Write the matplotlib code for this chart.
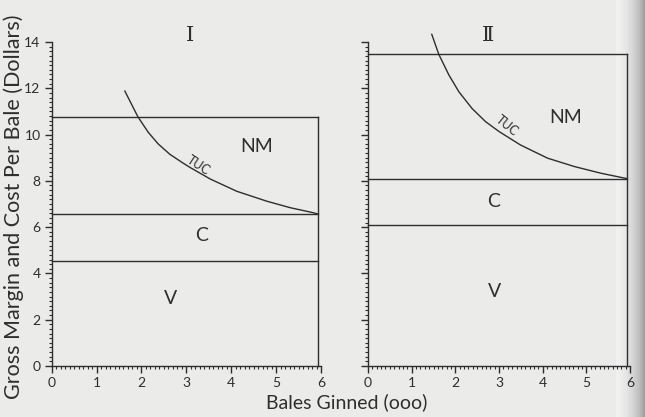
import numpy as np
import matplotlib.pyplot as plt
from matplotlib.ticker import MultipleLocator

plt.rcParams['font.family'] = ['Lato', 'DejaVu Sans']

# cost levels per bale (dollars): variable, variable + fixed, gross margin
panels = ["Ⅰ", "Ⅱ"]
x_end = [5.92, 5.92]
v_level = [4.55, 6.1]
c_level = [6.57, 8.1]
nm_level = [10.78, 13.5]

# total unit cost curves
tuc_x_1 = [1.63, 1.92, 2.15, 2.37, 2.63, 2.90, 3.08, 3.53, 4.12, 4.79, 5.31, 5.83, 5.92]
tuc_y_1 = [11.88, 10.77, 10.10, 9.60, 9.15, 8.80, 8.58, 8.08, 7.55, 7.12, 6.84, 6.62, 6.57]
tuc_x_2 = [1.46, 1.62, 1.85, 2.08, 2.38, 2.69, 3.00, 3.49, 4.11, 4.72, 5.33, 5.79, 5.92]
tuc_y_2 = [14.33, 13.47, 12.58, 11.85, 11.13, 10.56, 10.13, 9.55, 8.98, 8.62, 8.33, 8.15, 8.10]
tuc_x = [tuc_x_1, tuc_x_2]
tuc_y = [tuc_y_1, tuc_y_2]

# region label positions (x, y)
nm_pos = [(4.57, 9.48), (4.53, 10.72)]
c_pos = [(3.34, 5.66), (2.87, 7.09)]
v_pos = [(2.65, 2.9), (2.9, 3.2)]
tuc_pos = [(3.26, 8.68), (3.19, 10.37)]
tuc_rot = [-33, -39]
title_pos = [(3.08, 14.3), (2.74, 14.3)]

ink = '#2e2e2e'
paper = '#ebebe9'

fig = plt.figure(figsize=(6.45, 4.17), dpi=100, facecolor=paper)

# darker shadow along the right edge of the page
shade = fig.add_axes([0.955, 0, 0.045, 1], zorder=-5)
g = np.linspace(0, 1, 60) ** 1.6
shade.imshow(g[None, :], aspect='auto', cmap='Greys', vmin=-0.3, vmax=2.3,
             extent=[0, 1, 0, 1])
shade.axis('off')

boxes = [[0.080, 0.1223, 0.418, 0.777], [0.5705, 0.1223, 0.4065, 0.777]]

for i in range(2):
    ax = fig.add_axes(boxes[i])
    ax.set_facecolor('none')
    ax.set_xlim(0, 6)
    ax.set_ylim(0, 14)
    for s in ['top', 'right']:
        ax.spines[s].set_visible(False)
    for s in ['left', 'bottom']:
        ax.spines[s].set_color(ink)
        ax.spines[s].set_linewidth(1.0)

    xe = x_end[i]
    for lvl in [v_level[i], c_level[i], nm_level[i]]:
        ax.plot([0, xe], [lvl, lvl], color=ink, lw=1.0, clip_on=False)
    ax.plot([xe, xe], [0, nm_level[i]], color=ink, lw=1.0, clip_on=False)
    ax.plot(tuc_x[i], tuc_y[i], color=ink, lw=1.0, clip_on=False)

    ax.text(*nm_pos[i], "NM", fontsize=14, color=ink, ha='center', va='center')
    ax.text(*c_pos[i], "C", fontsize=14, color=ink, ha='center', va='center')
    ax.text(*v_pos[i], "V", fontsize=14, color=ink, ha='center', va='center')
    ax.text(*tuc_pos[i], "TUC", fontsize=9, color=ink, ha='center', va='center',
            rotation=tuc_rot[i])
    ax.text(*title_pos[i], panels[i], fontsize=15, color=ink, ha='center',
            va='center', family='DejaVu Serif')

    ax.xaxis.set_major_locator(MultipleLocator(1))
    ax.xaxis.set_minor_locator(MultipleLocator(0.1))
    ax.yaxis.set_major_locator(MultipleLocator(2))
    ax.yaxis.set_minor_locator(MultipleLocator(0.2))
    ax.tick_params(which='major', direction='out', length=5, width=1.0,
                   color=ink, labelcolor=ink, labelsize=10, pad=3)
    ax.tick_params(which='minor', direction='out', length=2.5, width=0.8,
                   color=ink)
    if i == 1:
        ax.tick_params(axis='y', labelleft=False)

fig.text(0.538, 0.035, "Bales Ginned (ooo)", fontsize=14, color=ink,
         ha='center', va='center')
fig.text(0.021, 0.505, "Gross Margin and Cost Per Bale (Dollars)", fontsize=15.5,
         color=ink, ha='center', va='center', rotation=90)

fig.savefig('out.png', dpi=100, facecolor=paper)
